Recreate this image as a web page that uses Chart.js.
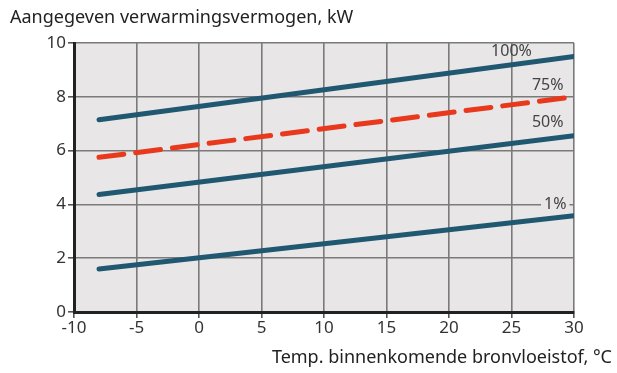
<!DOCTYPE html>
<html>
<head>
<meta charset="utf-8">
<script src="https://cdn.jsdelivr.net/npm/chart.js@4/dist/chart.umd.min.js"></script>
<style>
  html, body { margin: 0; padding: 0; background: #fff; }
  #wrap { width: 617px; height: 373px; }
</style>
</head>
<body>
<div id="wrap"><canvas id="grafico"></canvas></div>
<script>
// Temperatuur (x) en vermogen (y) per belasting
const temperaturen = [-8, 30];
const vermogen100 = [7.15, 9.5];
const vermogen75 = [5.75, 8.0];
const vermogen50 = [4.37, 6.55];
const vermogen1 = [1.6, 3.58];
const reeksLabels = ['100%', '75%', '50%', '1%'];
const yTicks = [0, 2, 4, 6, 8, 10];
const xTicks = [-10, -5, 0, 5, 10, 15, 20, 25, 30];

const blauw = '#1f5870';
const rood = '#e8391d';
const fontFam = '"Noto Sans", "Open Sans", sans-serif';

function punten(waarden) {
    return temperaturen.map((t, i) => ({ x: t, y: waarden[i] }));
}

// achtergrond van het plotvlak
const achtergrond = {
    id: 'achtergrond',
    beforeDraw(chart) {
        const { ctx, chartArea: a } = chart;
        ctx.save();
        ctx.fillStyle = '#e8e6e7';
        ctx.fillRect(a.left, a.top, a.right - a.left, a.bottom - a.top);
        ctx.restore();
    }
};

// labels bij de lijnen
const lijnLabels = {
    id: 'lijnLabels',
    afterDatasetsDraw(chart) {
        const { ctx, scales: { x, y } } = chart;
        const plek = [[25.0, 9.67], [27.9, 8.44], [27.9, 7.03], [28.5, 4.0]];
        ctx.save();
        ctx.font = '16px ' + fontFam;
        ctx.textAlign = 'center';
        ctx.textBaseline = 'middle';
        reeksLabels.forEach((t, i) => {
            const px = x.getPixelForValue(plek[i][0]);
            const py = y.getPixelForValue(plek[i][1]);
            if (t === '1%') {
                const w = ctx.measureText(t).width + 6;
                ctx.fillStyle = '#e8e6e7';
                ctx.fillRect(px - w / 2, py - 3, w, 6);
            }
            ctx.fillStyle = '#444';
            ctx.fillText(t, px, py);
        });
        ctx.restore();
    }
};

const ctx = document.getElementById('grafico').getContext('2d');
new Chart(ctx, {
    type: 'line',
    data: {
        datasets: [
            { label: reeksLabels[0], data: punten(vermogen100), borderColor: blauw, borderWidth: 5 },
            { label: reeksLabels[1], data: punten(vermogen75), borderColor: rood, borderWidth: 5, borderDash: [25, 12] },
            { label: reeksLabels[2], data: punten(vermogen50), borderColor: blauw, borderWidth: 5 },
            { label: reeksLabels[3], data: punten(vermogen1), borderColor: blauw, borderWidth: 5 }
        ]
    },
    options: {
        responsive: true,
        maintainAspectRatio: false,
        animation: false,
        layout: { padding: { left: 10, right: 5, top: 0, bottom: 4 } },
        elements: {
            point: { radius: 0 },
            line: { borderCapStyle: 'round', tension: 0 }
        },
        plugins: {
            legend: { display: false },
            tooltip: { enabled: false },
            title: {
                display: true,
                text: 'Aangegeven verwarmingsvermogen, kW',
                align: 'start',
                color: '#222',
                font: { family: fontFam, size: 18, weight: 'normal' },
                padding: { top: 7, bottom: 14.4 }
            },
            subtitle: {
                display: true,
                position: 'bottom',
                text: 'Temp. binnenkomende bronvloeistof, °C',
                align: 'end',
                color: '#222',
                font: { family: fontFam, size: 18, weight: 'normal' },
                padding: 0
            }
        },
        scales: {
            x: {
                type: 'linear',
                min: -10,
                max: 30,
                afterBuildTicks: s => { s.ticks = xTicks.map(v => ({ value: v })); },
                afterFit: s => { s.height = 35.4; },
                ticks: { color: '#333', font: { family: fontFam, size: 17 }, padding: 0 },
                grid: { color: '#7a7a7a', lineWidth: 1.6, tickLength: 6, tickColor: '#555' },
                border: { color: '#222', width: 3 }
            },
            y: {
                min: 0,
                max: 10,
                afterBuildTicks: s => { s.ticks = yTicks.map(v => ({ value: v })); },
                afterFit: s => { s.width = 64; },
                ticks: { color: '#333', font: { family: fontFam, size: 17 }, padding: 2 },
                grid: { color: '#7a7a7a', lineWidth: 1.6, tickLength: 6, tickColor: '#555' },
                border: { color: '#222', width: 3 }
            },
            rechts: {
                position: 'right',
                display: true,
                min: 0,
                max: 10,
                afterFit: s => { s.width = 38; },
                ticks: { display: false },
                grid: { display: false },
                border: { display: false }
            }
        }
    },
    plugins: [achtergrond, lijnLabels]
});
</script>
</body>
</html>
